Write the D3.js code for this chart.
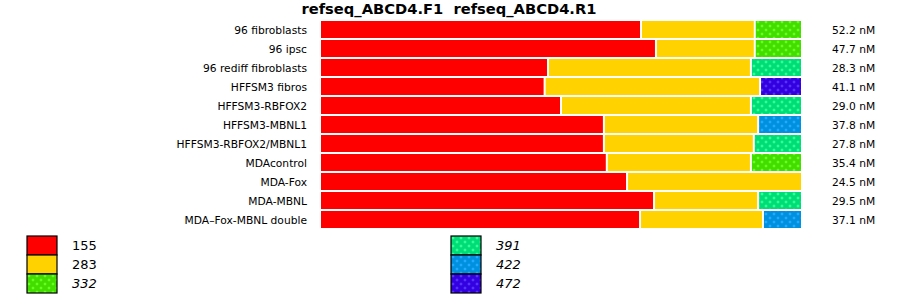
<!DOCTYPE html>
<html>
  <head>
    <title>refseq_ABCD4</title>
    <script src="https://d3js.org/d3.v7.min.js"></script>
    <style>
      body { margin: 0; background: #fff; }
      text { font-family: "DejaVu Sans", sans-serif; fill: #000; }
      .title { font-size: 14.7px; font-weight: bold; }
      .label, .conc { font-size: 10.7px; }
      .legend text { font-size: 13px; }
    </style>
  </head>
  <body>
    <svg width="900" height="299"></svg>
    <script>
      const samples = ["96 fibroblasts", "96 ipsc", "96 rediff fibroblasts", "HFFSM3 fibros",
        "HFFSM3-RBFOX2", "HFFSM3-MBNL1", "HFFSM3-RBFOX2/MBNL1", "MDAcontrol",
        "MDA-Fox", "MDA-MBNL", "MDA\u2013Fox-MBNL double"];
      const concentrations = ["52.2 nM", "47.7 nM", "28.3 nM", "41.1 nM", "29.0 nM", "37.8 nM",
        "27.8 nM", "35.4 nM", "24.5 nM", "29.5 nM", "37.1 nM"];
      const alleles = ["155", "283", "332", "391", "422", "472"];
      // percent of reads per allele, one entry per sample
      const v155 = [66.6, 69.7, 47.3, 46.6, 50.0, 58.9, 58.9, 59.5, 63.7, 69.3, 66.4];
      const v283 = [23.6, 20.5, 42.1, 44.7, 39.4, 32.0, 31.1, 29.9, 36.3, 21.6, 25.5];
      const v332 = [9.8, 9.8, 0, 0, 0, 0, 0, 10.6, 0, 0, 0];
      const v391 = [0, 0, 10.6, 0, 10.6, 0, 10.0, 0, 0, 9.1, 0];
      const v422 = [0, 0, 0, 0, 0, 9.1, 0, 0, 0, 0, 8.1];
      const v472 = [0, 0, 0, 8.7, 0, 0, 0, 0, 0, 0, 0];

      const baseColor = {"155": "#ff0000", "283": "#ffd200", "332": "#44dd00",
        "391": "#00dd77", "422": "#0090e0", "472": "#3300e0"};
      const dotColor = {"332": "#66ff22", "391": "#33ff99", "422": "#22aaff", "472": "#5533ff"};
      const italic = {"332": true, "391": true, "422": true, "472": true};

      const cols = [v155, v283, v332, v391, v422, v472];
      const rows = samples.map((s, i) => {
        const r = {sample: s, conc: concentrations[i]};
        alleles.forEach((a, j) => r[a] = cols[j][i]);
        return r;
      });

      const svg = d3.select("svg");
      const defs = svg.append("defs");

      // dotted fill patterns for the minor alleles
      Object.keys(dotColor).forEach(a => {
        const p = defs.append("pattern")
            .attr("id", "pat" + a)
            .attr("patternUnits", "userSpaceOnUse")
            .attr("width", 8).attr("height", 8);
        p.append("rect").attr("width", 8).attr("height", 8).attr("fill", baseColor[a]);
        [[2, 2], [6, 6]].forEach(([cx, cy]) => {
          p.append("rect").attr("x", cx - 1.5).attr("y", cy - 0.5).attr("width", 3).attr("height", 1).attr("fill", dotColor[a]);
          p.append("rect").attr("x", cx - 0.5).attr("y", cy - 1.5).attr("width", 1).attr("height", 3).attr("fill", dotColor[a]);
          p.append("rect").attr("x", cx - 1).attr("y", cy - 1).attr("width", 2).attr("height", 2).attr("fill", dotColor[a]);
        });
      });
      const fillFor = a => dotColor[a] ? `url(#pat${a})` : baseColor[a];

      const x = d3.scaleLinear().domain([0, 100]).range([320, 802]);
      const y = d3.scaleBand().domain(samples).range([20, 229])
          .paddingInner(2 / 19).paddingOuter(1 / 19);

      svg.append("text")
          .attr("class", "title")
          .attr("x", 449).attr("y", 14)
          .attr("text-anchor", "middle")
          .text("refseq_ABCD4.F1\u00a0\u00a0refseq_ABCD4.R1");

      const stack = d3.stack().keys(alleles)(rows);

      svg.append("g").selectAll("g")
        .data(stack)
        .join("g")
          .attr("fill", d => fillFor(d.key))
        .selectAll("rect")
        .data(d => d.filter(s => s[1] - s[0] > 0))
        .join("rect")
          .attr("x", s => x(s[0]) + 1)
          .attr("y", s => y(s.data.sample))
          .attr("width", s => x(s[1]) - x(s[0]) - 2)
          .attr("height", y.bandwidth());

      svg.append("g").selectAll("text")
        .data(rows)
        .join("text")
          .attr("class", "label")
          .attr("x", 307)
          .attr("y", d => y(d.sample) + y.bandwidth() / 2 + 4)
          .attr("text-anchor", "end")
          .text(d => d.sample);

      svg.append("g").selectAll("text")
        .data(rows)
        .join("text")
          .attr("class", "conc")
          .attr("x", 832)
          .attr("y", d => y(d.sample) + y.bandwidth() / 2 + 4)
          .text(d => d.conc);

      // legend, two columns of three
      const legendG = svg.append("g").attr("class", "legend");
      const item = legendG.selectAll("g")
        .data(alleles)
        .join("g")
          .attr("transform", (d, i) => `translate(${i < 3 ? 27 : 451}, ${236 + (i % 3) * 19})`);
      item.append("rect")
          .attr("width", 30).attr("height", 19)
          .attr("fill", d => fillFor(d))
          .attr("stroke", "#000").attr("stroke-width", 1.2);
      item.append("text")
          .attr("x", 45).attr("y", 14)
          .attr("font-style", d => italic[d] ? "italic" : "normal")
          .text(d => d);
    </script>
  </body>
</html>
